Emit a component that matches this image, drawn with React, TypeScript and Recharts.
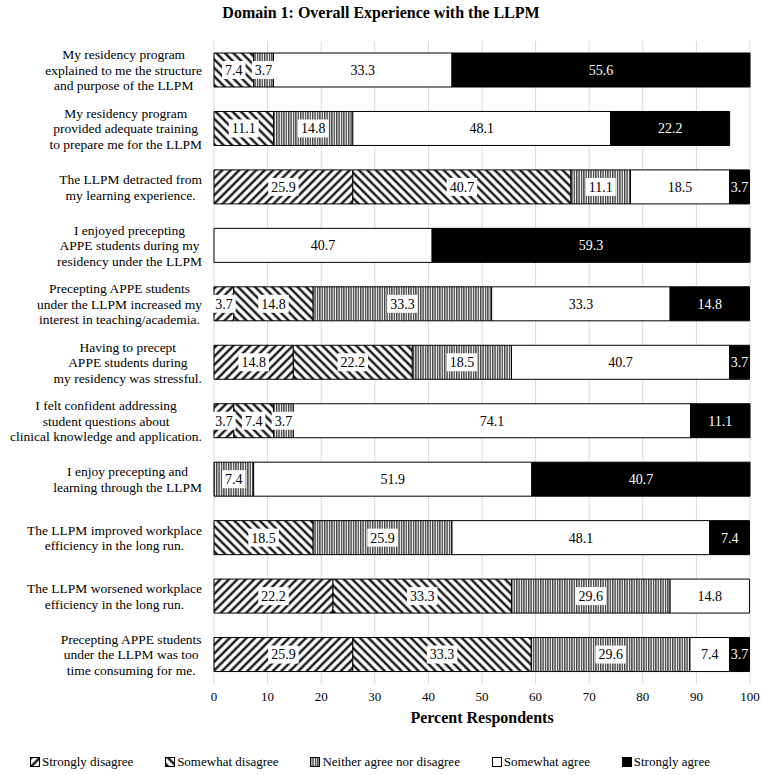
import { Bar, BarChart, CartesianGrid, LabelList, XAxis, YAxis } from "recharts";

const categories = [
  "My residency program\nexplained to me the structure\nand purpose of the LLPM",
  "My residency program\nprovided adequate training\nto prepare me for the LLPM",
  "The LLPM detracted from\nmy learning experience.",
  "I enjoyed precepting\nAPPE students during my\nresidency under the LLPM",
  "Precepting APPE students\nunder the LLPM increased my\ninterest in teaching/academia.",
  "Having to precept\nAPPE students during\nmy residency was stressful.",
  "I felt confident addressing\nstudent questions about\nclinical knowledge and application.",
  "I enjoy precepting and\nlearning through the LLPM",
  "The LLPM improved workplace\nefficiency in the long run.",
  "The LLPM worsened workplace\nefficiency in the long run.",
  "Precepting APPE students\nunder the LLPM was too\ntime consuming for me.",
];

const stronglyDisagree = [0, 0, 25.9, 0, 3.7, 14.8, 3.7, 0, 0, 22.2, 25.9];
const somewhatDisagree = [7.4, 11.1, 40.7, 0, 14.8, 22.2, 7.4, 0, 18.5, 33.3, 33.3];
const neither = [3.7, 14.8, 11.1, 0, 33.3, 18.5, 3.7, 7.4, 25.9, 29.6, 29.6];
const somewhatAgree = [33.3, 48.1, 18.5, 40.7, 33.3, 40.7, 74.1, 51.9, 48.1, 14.8, 7.4];
const stronglyAgree = [55.6, 22.2, 3.7, 59.3, 14.8, 3.7, 11.1, 40.7, 7.4, 0, 3.7];

const xTicks = [0, 10, 20, 30, 40, 50, 60, 70, 80, 90, 100];

const series = [
  { key: "sd", name: "Strongly disagree", fill: "url(#pat-sd)", dark: false },
  { key: "swd", name: "Somewhat disagree", fill: "url(#pat-swd)", dark: false },
  { key: "n", name: "Neither agree nor disagree", fill: "url(#pat-n)", dark: false },
  { key: "sa", name: "Somewhat agree", fill: "#ffffff", dark: false },
  { key: "sta", name: "Strongly agree", fill: "#000000", dark: true },
];

const data = categories.map((c, i) => ({
  cat: c,
  sd: stronglyDisagree[i],
  swd: somewhatDisagree[i],
  n: neither[i],
  sa: somewhatAgree[i],
  sta: stronglyAgree[i],
}));

const FONT = '"Liberation Serif", "Times New Roman", serif';

let ctx: CanvasRenderingContext2D | null = null;
const measure = (s: string, size: number) => {
  if (!ctx) ctx = document.createElement("canvas").getContext("2d");
  if (!ctx) return s.length * size * 0.45;
  ctx.font = `${size}px "Liberation Serif"`;
  return ctx.measureText(s).width;
};

const CatTick = (props: any) => {
  const { y, payload } = props;
  const lines: string[] = String(payload.value).split("\n");
  const fs = 13.5;
  const lh = 15.5;
  const maxW = Math.max(...lines.map((l) => measure(l, fs)));
  const cx = 202 - maxW / 2;
  const top = y - ((lines.length - 1) * lh) / 2;
  return (
    <text
      x={cx}
      y={top}
      textAnchor="middle"
      fontFamily={FONT}
      fontSize={fs}
      fill="#000"
    >
      {lines.map((l, i) => (
        <tspan key={i} x={cx} y={top + i * lh} dy="0.35em">
          {l}
        </tspan>
      ))}
    </text>
  );
};

const makeLabel = (dark: boolean, boxed: boolean) => (props: any) => {
  const { x, y, width, height, value } = props;
  if (!value) return null;
  const s = Number(value).toFixed(1);
  const cx = x + width / 2;
  const cy = y + height / 2;
  const w = measure(s, 14) + 6;
  return (
    <g>
      {boxed && (
        <rect x={cx - w / 2} y={cy - 9} width={w} height={18} fill="#fff" />
      )}
      <text
        x={cx}
        y={cy}
        dy="0.35em"
        textAnchor="middle"
        fontFamily={FONT}
        fontSize={14}
        fill={dark ? "#fff" : "#000"}
      >
        {s}
      </text>
    </g>
  );
};

const Swatch = ({ fill }: { fill: string }) => (
  <svg width={10} height={10} style={{ marginRight: 2 }}>
    <rect x={0.5} y={0.5} width={9} height={9} fill={fill} stroke="#000" />
  </svg>
);

export default function App() {
  return (
    <div
      style={{
        position: "relative",
        width: 762,
        height: 775,
        background: "#fff",
        fontFamily: FONT,
      }}
    >
      <style>{`body{margin:0}`}</style>
      <svg width={0} height={0} style={{ position: "absolute" }}>
        <defs>
          <pattern id="pat-sd" width="6" height="6" patternUnits="userSpaceOnUse" patternTransform="rotate(45)">
            <rect width="6" height="6" fill="#fff" />
            <line x1="1.5" y1="0" x2="1.5" y2="6" stroke="#000" strokeWidth="2.2" />
          </pattern>
          <pattern id="pat-swd" width="6" height="6" patternUnits="userSpaceOnUse" patternTransform="rotate(-45)">
            <rect width="6" height="6" fill="#fff" />
            <line x1="1.5" y1="0" x2="1.5" y2="6" stroke="#000" strokeWidth="2.2" />
          </pattern>
          <pattern id="pat-n" width="2.4" height="4" patternUnits="userSpaceOnUse">
            <rect width="2.4" height="4" fill="#fff" />
            <line x1="0.7" y1="0" x2="0.7" y2="4" stroke="#222" strokeWidth="1.2" />
          </pattern>
        </defs>
      </svg>
      <div
        style={{
          position: "absolute",
          top: 4,
          left: 0,
          width: 762,
          textAlign: "center",
          fontWeight: "bold",
          fontSize: 16,
        }}
      >
        Domain 1: Overall Experience with the LLPM
      </div>
      <BarChart
        width={762}
        height={775}
        data={data}
        layout="vertical"
        barSize={34}
        margin={{ top: 41, right: 12, bottom: 71, left: 0 }}
      >
        <CartesianGrid horizontal={false} stroke="#d9d9d9" />
        <XAxis
          type="number"
          domain={[0, 100]}
          ticks={xTicks}
          axisLine={false}
          tickLine={false}
          height={20}
          tick={{ fontFamily: FONT, fontSize: 13, fill: "#000" }}
        />
        <YAxis
          type="category"
          dataKey="cat"
          width={214}
          axisLine={false}
          tickLine={false}
          tick={<CatTick />}
          interval={0}
        />
        {series.map((s) => (
          <Bar
            key={s.key}
            dataKey={s.key}
            name={s.name}
            stackId="a"
            fill={s.fill}
            stroke="#000"
            strokeWidth={1}
            isAnimationActive={false}
          >
            <LabelList
              dataKey={s.key}
              content={makeLabel(s.dark, s.key === "sd" || s.key === "swd" || s.key === "n")}
            />
          </Bar>
        ))}
      </BarChart>
      <div
        style={{
          position: "absolute",
          top: 709,
          left: 214,
          width: 536,
          textAlign: "center",
          fontWeight: "bold",
          fontSize: 16,
        }}
      >
        Percent Respondents
      </div>
      <div
        style={{
          position: "absolute",
          top: 754,
          left: 30,
          width: 680,
          display: "flex",
          justifyContent: "space-between",
          fontSize: 13,
          alignItems: "center",
        }}
      >
        {series.map((s) => (
          <span key={s.key} style={{ display: "flex", alignItems: "center" }}>
            <Swatch fill={s.fill} />
            {s.name}
          </span>
        ))}
      </div>
    </div>
  );
}
